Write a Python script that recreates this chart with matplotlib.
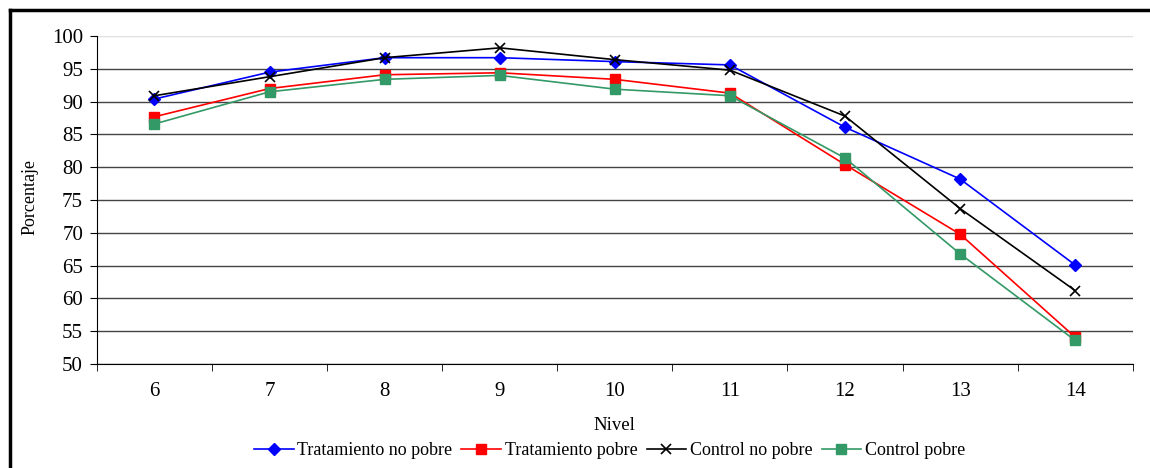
import numpy as np
import matplotlib.pyplot as plt
from matplotlib.lines import Line2D

plt.rcParams['font.family'] = ['Liberation Serif', 'DejaVu Serif']

# Datos por nivel
niveles = ['6', '7', '8', '9', '10', '11', '12', '13', '14']
trat_no_pobre = [90.4, 94.5, 96.7, 96.7, 96.1, 95.6, 86.1, 78.2, 65.1]
trat_pobre = [87.7, 92.0, 94.1, 94.4, 93.4, 91.3, 80.4, 69.8, 54.1]
ctrl_no_pobre = [90.9, 93.8, 96.7, 98.2, 96.4, 94.8, 87.8, 73.7, 61.2]
ctrl_pobre = [86.6, 91.5, 93.4, 94.0, 91.9, 90.9, 81.4, 66.8, 53.6]

fig = plt.figure(figsize=(11.5, 4.68), dpi=100)
ax = fig.add_axes([0.0843, 0.222, 0.9007, 0.701])

x = np.arange(len(niveles))
ax.plot(x, trat_no_pobre, color='#0000ff', lw=1.2, marker='D', ms=6,
        label='Tratamiento no pobre')
ax.plot(x, trat_pobre, color='#ff0000', lw=1.2, marker='s', ms=7,
        label='Tratamiento pobre')
ax.plot(x, ctrl_no_pobre, color='black', lw=1.2, marker='x', ms=7, mew=1.2,
        label='Control no pobre')
ax.plot(x, ctrl_pobre, color='#339966', lw=1.2, marker='s', ms=7,
        label='Control pobre')

ax.set_xlim(-0.5, len(niveles) - 0.5)
ax.set_ylim(50, 100)
ax.set_yticks(np.arange(50, 101, 5))
ax.set_xticks(x)
ax.set_xticklabels(niveles)
ax.set_xticks(np.arange(-0.5, len(niveles)), minor=True)
ax.tick_params(axis='x', which='major', length=0, pad=13, labelsize=15)
ax.tick_params(axis='x', which='minor', length=5, direction='out')
ax.tick_params(axis='y', length=5, direction='out', labelsize=15, pad=5)

ax.yaxis.grid(True, color='#444444', lw=1)
ax.get_ygridlines()[-1].set_color('#e0e0e0')
ax.set_axisbelow(True)
for s in ['top', 'right']:
    ax.spines[s].set_visible(False)

ax.set_xlabel('Nivel', fontsize=13.5)
ax.xaxis.set_label_coords(0.5, -0.16)
ax.set_ylabel('Porcentaje', fontsize=13)
ax.yaxis.set_label_coords(-0.056, 0.51)

fig.legend(loc='center', bbox_to_anchor=(0.53, 0.037), ncol=4, frameon=False,
           fontsize=13, handlelength=2.2, handletextpad=0.2, columnspacing=0.5)

# marco exterior
fig.add_artist(Line2D([10 / 1150, 1.0], [1 - 10 / 468, 1 - 10 / 468],
                      color='black', lw=2.5, transform=fig.transFigure))
fig.add_artist(Line2D([10 / 1150, 10 / 1150], [0, 1 - 10 / 468],
                      color='black', lw=2.5, transform=fig.transFigure))

fig.savefig('out.png', dpi=100)
